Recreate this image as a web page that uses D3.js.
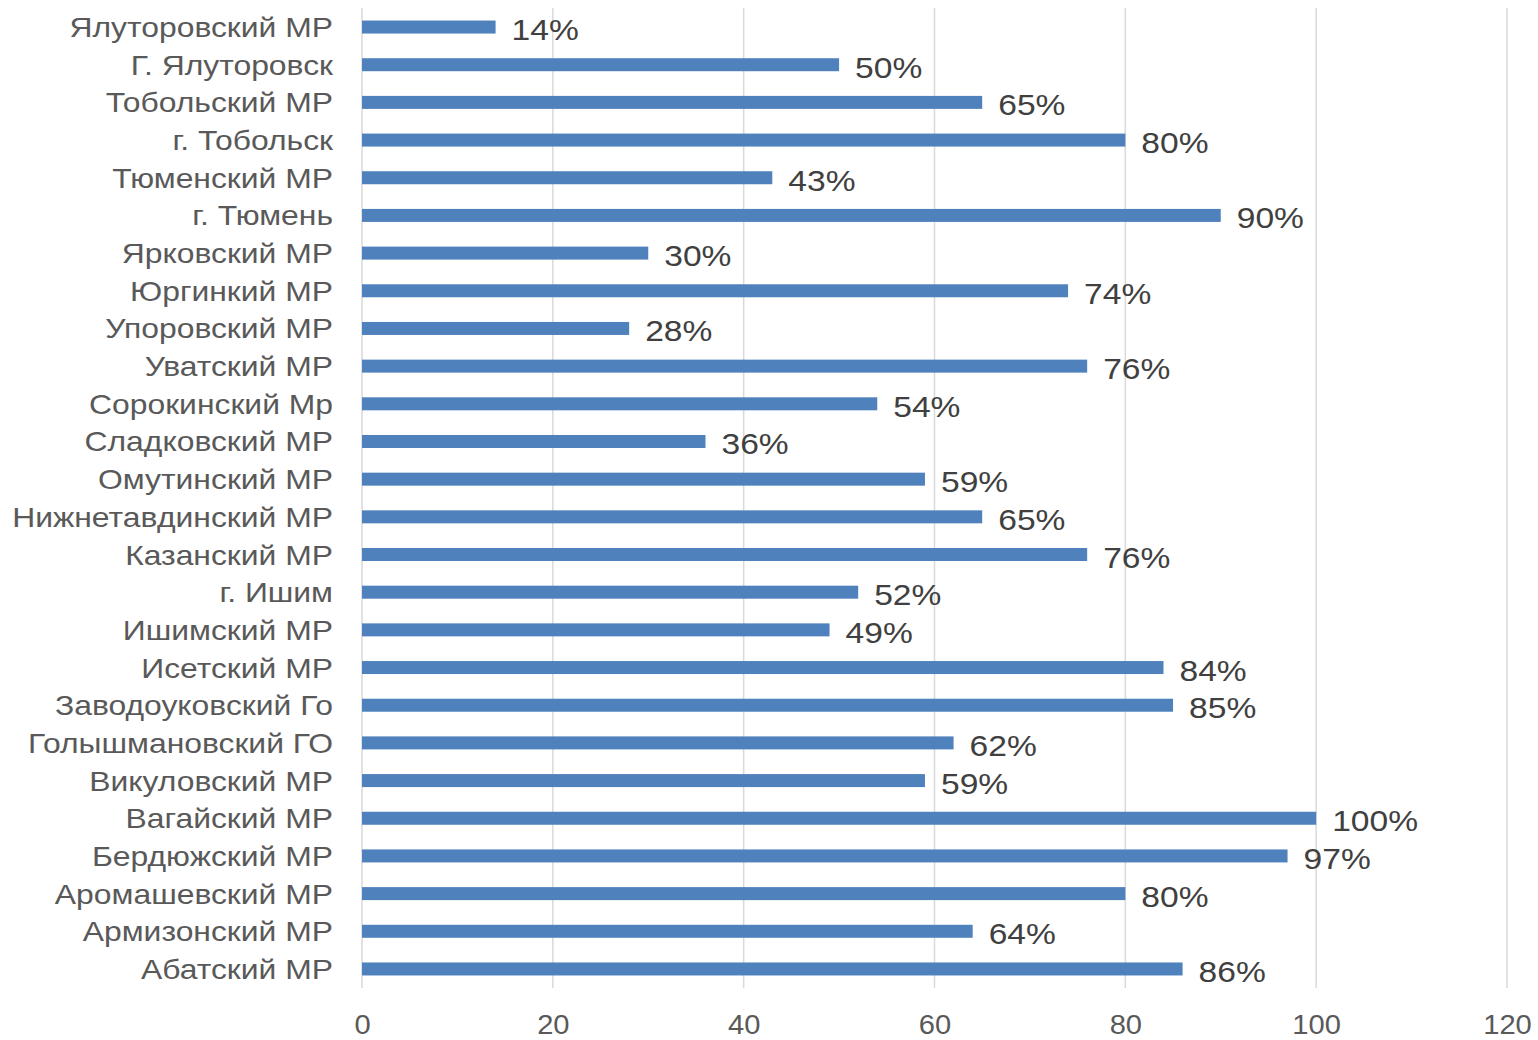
<!DOCTYPE html>
<html><head><meta charset="utf-8">
<script src="https://cdn.jsdelivr.net/npm/d3@7/dist/d3.min.js"></script>
<style>body{margin:0;background:#fff}svg{display:block}</style>
</head><body>
<svg id="c" width="1538" height="1040"></svg>
<script>
const categories = ["Ялуторовский МР","Г. Ялуторовск","Тобольский МР","г. Тобольск","Тюменский МР","г. Тюмень","Ярковский МР","Юргинкий МР","Упоровский МР","Уватский МР","Сорокинский Мр","Сладковский МР","Омутинский МР","Нижнетавдинский МР","Казанский МР","г. Ишим","Ишимский МР","Исетский МР","Заводоуковский Го","Голышмановский ГО","Викуловский МР","Вагайский МР","Бердюжский МР","Аромашевский МР","Армизонский МР","Абатский МР"];
const values = [14,50,65,80,43,90,30,74,28,76,54,36,59,65,76,52,49,84,85,62,59,100,97,80,64,86];
const xTicks = [0,20,40,60,80,100,120];

const svg = d3.select("#c");
const font = "'Liberation Sans', Arial, sans-serif";
const x = d3.scaleLinear().domain([0,120]).range([362,1507]);
const y = d3.scaleBand().domain(categories).range([8.2,987.8]).paddingInner(0.655).paddingOuter(0.3275);

function stretch(sel, s){
  sel.each(function(){
    const t = d3.select(this);
    const tx = +t.attr("x") || 0, ty = +t.attr("y") || 0;
    t.attr("x",0).attr("y",0).attr("transform",`translate(${tx},${ty}) scale(${s},1)`);
  });
}

// gridlines
svg.append("g").selectAll("line").data(xTicks).join("line")
  .attr("x1",d=>x(d)).attr("x2",d=>x(d)).attr("y1",8).attr("y2",988)
  .attr("stroke","#d9d9d9").attr("stroke-width",1.5);

// x axis labels
const xa = svg.append("g").attr("transform","translate(0,988)")
  .call(d3.axisBottom(x).tickValues(xTicks).tickSize(0).tickPadding(0));
xa.select(".domain").remove();
xa.selectAll("text").attr("font-family",font).attr("font-size",27.5).attr("fill","#595959")
  .attr("dy",0).attr("y",46);
stretch(xa.selectAll("text"),1.06);

// y axis labels
const ya = svg.append("g").attr("transform","translate(362,0)")
  .call(d3.axisLeft(y).tickSize(0).tickPadding(29));
ya.select(".domain").remove();
ya.selectAll("text").attr("font-family",font).attr("font-size",27).attr("fill","#595959").attr("dy",0).attr("y",10);
stretch(ya.selectAll("text"),1.18);

// bars
svg.append("g").selectAll("rect").data(values).join("rect")
  .attr("x",x(0)).attr("y",(d,i)=>y(categories[i]))
  .attr("width",d=>x(d)-x(0)).attr("height",y.bandwidth())
  .attr("fill","#4f81bd");

// data labels
const dl = svg.append("g").selectAll("text").data(values).join("text")
  .attr("x",d=>x(d)+16).attr("y",(d,i)=>y(categories[i])+y.bandwidth()/2+13)
  .attr("font-family",font).attr("font-size",30).attr("fill","#404040")
  .text(d=>d+"%");
stretch(dl,1.12);
</script>
</body></html>
